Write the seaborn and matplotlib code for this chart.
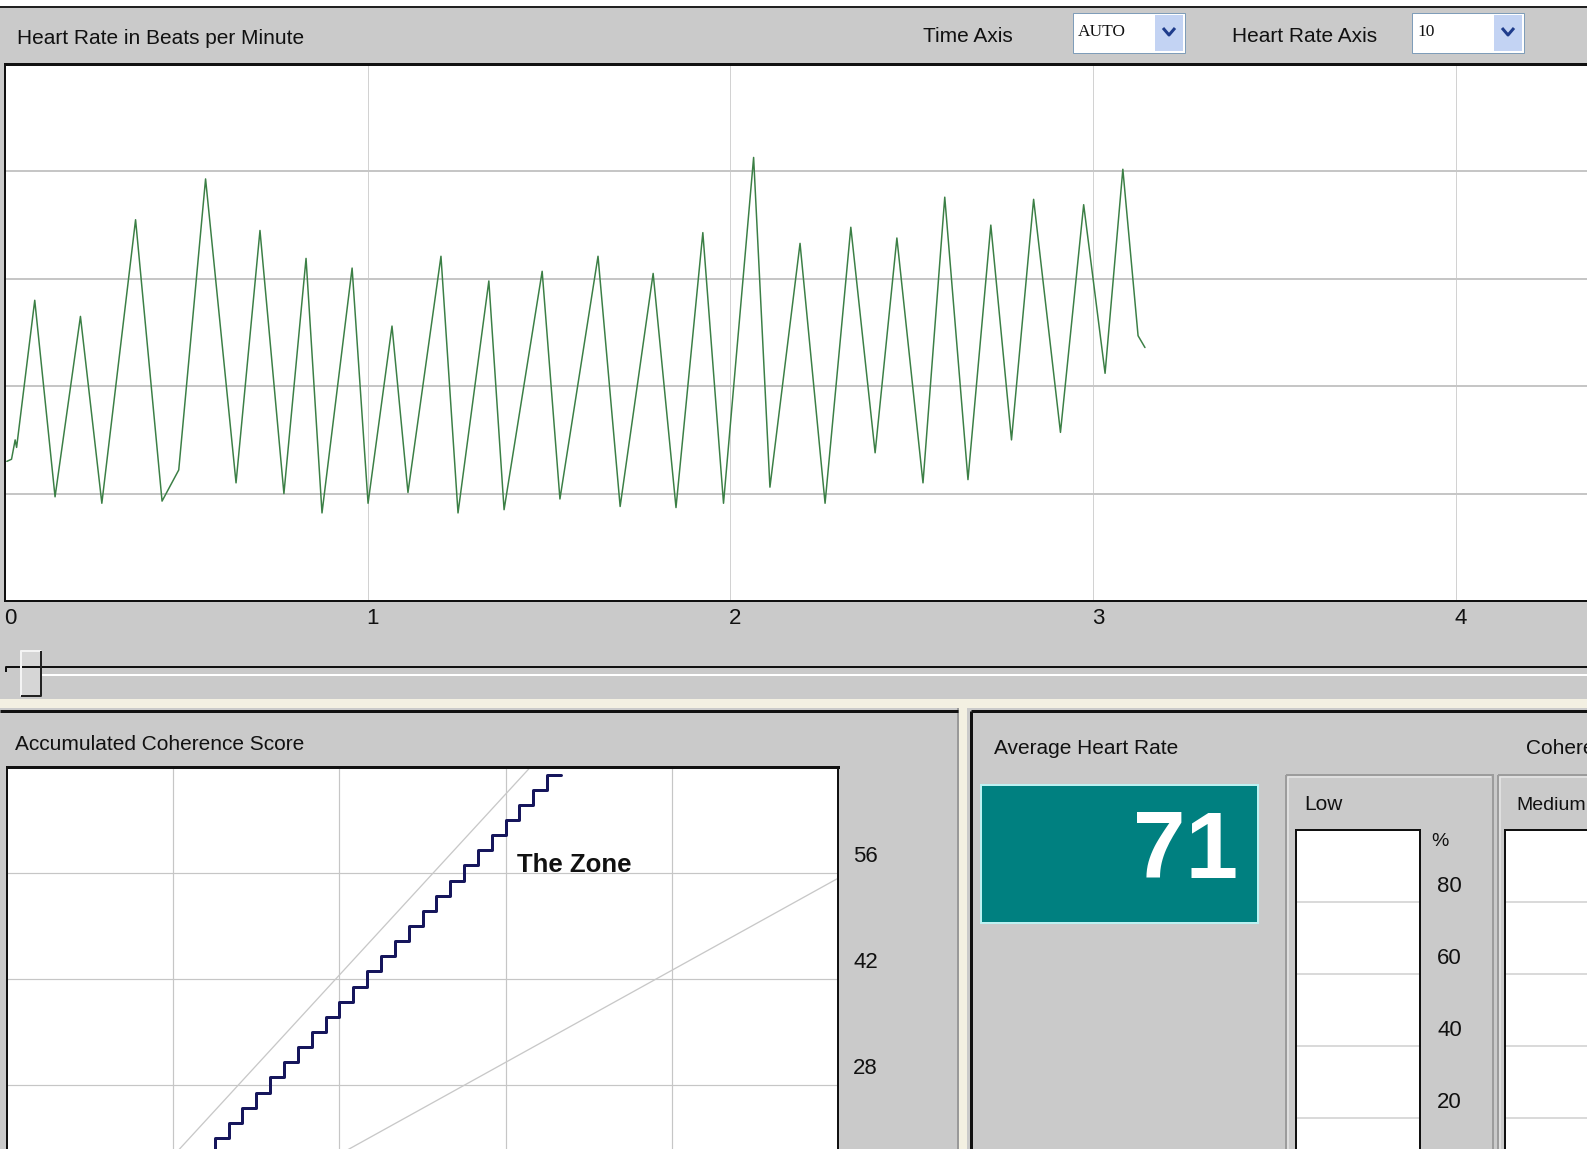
import numpy as np
import seaborn as sns
import matplotlib
matplotlib.use("Agg")
import matplotlib.pyplot as plt
from matplotlib.patches import Rectangle
from matplotlib.transforms import blended_transform_factory, offset_copy
from matplotlib import font_manager

# ---- data ----
# heart rate trace: time in minutes, beats per minute (turning points of the wave)
hr_time = [0.005, 0.018, 0.028, 0.032, 0.082, 0.138, 0.208, 0.267, 0.360, 0.433,
           0.479, 0.553, 0.637, 0.703, 0.769, 0.830, 0.874, 0.957, 1.001, 1.067,
           1.111, 1.202, 1.249, 1.334, 1.376, 1.481, 1.530, 1.635, 1.696, 1.787,
           1.850, 1.924, 1.981, 2.064, 2.109, 2.192, 2.261, 2.332, 2.399, 2.459,
           2.531, 2.591, 2.655, 2.718, 2.775, 2.836, 2.910, 2.974, 3.033, 3.082,
           3.124, 3.143]
hr_bpm = [63.0, 63.2, 65.0, 64.3, 78.0, 59.7, 76.5, 59.1, 85.5, 59.3,
          62.2, 89.3, 61.0, 84.5, 60.0, 81.9, 58.2, 81.0, 59.1, 75.6,
          60.1, 82.1, 58.2, 79.8, 58.5, 80.7, 59.5, 82.1, 58.8, 80.5,
          58.7, 84.3, 59.1, 91.3, 60.6, 83.3, 59.1, 84.8, 63.8, 83.8,
          61.0, 87.6, 61.3, 85.0, 65.0, 87.4, 65.7, 86.9, 71.2, 90.2,
          74.7, 73.6]
time_ticks = [0, 1, 2, 3, 4]
hr_grid = [60, 70, 80, 90]

# accumulated coherence score, one value every 5 seconds
score_step_sec = 5
scores = [0, 0, 0, 0, 0, 1, 3, 5, 7, 9, 11, 13, 15, 17, 19, 21, 23, 25, 27, 29,
          31, 33, 35, 37, 39, 41, 43, 45, 47, 49, 51, 53, 55, 57, 59, 61, 63, 65,
          67, 69, 69]
zone_upper_t = [0.22, 3.15]
zone_upper_v = [0, 70]
zone_lower_t = [0.45, 5.0]
zone_lower_v = [0, 55.3]
score_ticks = [28, 42, 56]

avg_hr = 71
pct_ticks = [80, 60, 40, 20]

# ---- figure in pixel units ----
W, H, DPI = 1587, 1149, 100
sns.set_style("white")
installed = {f.name for f in font_manager.fontManager.ttflist}
SANS = ['Liberation Sans', 'DejaVu Sans']
NARROW = (['Liberation Sans Narrow'] + SANS) if 'Liberation Sans Narrow' in installed else SANS
plt.rcParams['font.family'] = SANS

PANEL = '#cacaca'
INK = '#111111'
GRID = '#c6c6c6'
FS = 15

fig = plt.figure(figsize=(W / DPI, H / DPI), dpi=DPI, facecolor=PANEL)

bg = fig.add_axes([0, 0, 1, 1])
bg.set_xlim(0, W)
bg.set_ylim(H, 0)
bg.axis('off')
bg.set_zorder(0)


def pt(px):
    return px * 72 / DPI


def rect(x0, y0, x1, y1, **kw):
    bg.add_patch(Rectangle((x0, y0), x1 - x0, y1 - y0, **kw))


def seg(xs, ys, color, w):
    bg.plot(xs, ys, color=color, lw=pt(w), solid_capstyle='butt')


def px_axes(x0, y0, x1, y1):
    ax = fig.add_axes([x0 / W, 1 - y1 / H, (x1 - x0) / W, (y1 - y0) / H])
    ax.set_zorder(1)
    ax.set_facecolor('white')
    return ax


def dropdown(x0, y0, x1, y1, label):
    rect(x0, y0, x1, y1, facecolor='white', edgecolor='#7f9db9', lw=pt(1))
    rect(x1 - 30, y0 + 2, x1 - 2, y1 - 2, facecolor='#c3d3f3', edgecolor='none')
    cx, cy = x1 - 16, (y0 + y1) / 2 - 1
    seg([cx - 6, cx, cx + 6], [cy - 4, cy + 3, cy - 4], '#1f3c8c', 3)
    bg.text(x0 + 5, cy, label, family=['Liberation Serif', 'DejaVu Serif'],
            fontsize=12.5, color=INK, ha='left', va='center')


# ---- top panel: header ----
rect(0, 0, W, 6, facecolor='white', edgecolor='none')
seg([0, W], [7, 7], '#222222', 2)
bg.text(17, 39, 'Heart Rate in Beats per Minute', fontsize=FS, color=INK, ha='left', va='center')
bg.text(968, 37, 'Time Axis', fontsize=FS, color=INK, ha='center', va='center')
dropdown(1073, 13, 1185, 53, 'AUTO')
bg.text(1305, 37, 'Heart Rate Axis', fontsize=FS, color=INK, ha='center', va='center')
dropdown(1412, 13, 1524, 53, '10')

# ---- heart rate chart ----
ax = px_axes(5, 64, W, 601)
sns.lineplot(x=hr_time, y=hr_bpm, ax=ax, color='#3b7f45', lw=pt(1.5), estimator=None, sort=False)
ax.set_xlim(0, (W - 5) / 362.7)
ax.set_ylim(50, 100)
ax.set_xticks(time_ticks)
ax.set_yticks(hr_grid)
ax.set_xticklabels([])
ax.set_yticklabels([])
ax.tick_params(length=0)
ax.xaxis.grid(True, color='#d2d2d2', lw=pt(1))
ax.yaxis.grid(True, color=GRID, lw=pt(2))
ax.set_axisbelow(True)
for side, w in [('top', 3), ('left', 2), ('bottom', 2)]:
    ax.spines[side].set_color('#111111')
    ax.spines[side].set_linewidth(pt(w))
ax.spines['right'].set_visible(False)
xlab = offset_copy(blended_transform_factory(ax.transData, ax.transAxes), fig=fig, x=5, y=-17, units='dots')
for t in time_ticks:
    ax.text(t, 0, str(t), transform=xlab, fontsize=16, color=INK, ha='center', va='center', clip_on=False)

# slider
seg([6, 6, W], [672, 667, 667], '#111111', 2)
seg([42, W], [675, 675], 'white', 2)
rect(20, 650, 42, 697, facecolor='#d6d6d6', edgecolor='none')
seg([21, 21, 41], [696, 651, 651], '#f4f4f4', 2)
seg([21, 41, 41], [696, 696, 651], '#222222', 2)

# separators between panels
rect(0, 699, W, 708, facecolor='#f3f0e2', edgecolor='none')
rect(959, 699, 967, H, facecolor='#f3f0e2', edgecolor='none')
seg([958, 958], [708, H], '#8a8a8a', 1.5)
seg([0, 958], [711, 711], '#111111', 3)
seg([971, W], [711, 711], '#111111', 3)
seg([971, 971], [711, H], '#111111', 3)

# ---- accumulated coherence score ----
bg.text(15, 744, 'Accumulated Coherence Score', fontsize=FS, color=INK, ha='left', va='center')
ax2 = px_axes(7, 767, 838, H)
score_t = np.arange(len(scores)) * score_step_sec / 60
ax2.plot(zone_upper_t, zone_upper_v, color='#c8c8c8', lw=pt(1.3))
ax2.plot(zone_lower_t, zone_lower_v, color='#c8c8c8', lw=pt(1.3))
sns.lineplot(x=score_t, y=scores, ax=ax2, color='#16165c', lw=pt(3), drawstyle='steps-post',
             estimator=None, sort=False)
ax2.set_xlim(0, 5)
ax2.set_ylim(70 - (H - 767) / 106 * 14, 70)
ax2.set_xticks([1, 2, 3, 4])
ax2.set_yticks(score_ticks)
ax2.set_xticklabels([])
ax2.set_yticklabels([])
ax2.tick_params(length=0)
ax2.grid(True, color=GRID, lw=pt(1.2))
ax2.set_axisbelow(True)
for side, w in [('top', 3), ('left', 2), ('right', 2)]:
    ax2.spines[side].set_color('#111111')
    ax2.spines[side].set_linewidth(pt(w))
ax2.spines['bottom'].set_visible(False)
ax2.text(3.07, 57.1, 'The Zone', fontsize=18.5, fontweight='bold', color=INK, ha='left', va='center')
ylab = offset_copy(blended_transform_factory(ax2.transAxes, ax2.transData), fig=fig, x=15, y=17, units='dots')
for v in score_ticks:
    ax2.text(1, v, str(v), transform=ylab, fontsize=16, color=INK, ha='left', va='center', clip_on=False)

# ---- average heart rate ----
bg.text(994, 748, 'Average Heart Rate', fontsize=FS, color=INK, ha='left', va='center')
rect(981, 785, 1258, 923, facecolor='#008080', edgecolor='#bdf2f2', lw=pt(2))
bg.text(1238, 853, str(avg_hr), family=NARROW, fontsize=68, fontweight='bold', color='white',
        ha='right', va='center')
# heading runs past the window edge in the screenshot
bg.text(1526, 748, 'Coherence', fontsize=FS, color=INK, ha='left', va='center', clip_on=True)

# coherence level boxes (Low / Medium), no bars filled
for (fx0, fx1, name, ax_x0, ax_x1) in [(1286, 1493, 'Low', 1296, 1420), (1498, 1640, 'Medium', 1505, W)]:
    rect(fx0, 775, fx1, H + 5, facecolor='none', edgecolor='#9c9c9c', lw=pt(2))
    seg([fx0 + 2, fx0 + 2, fx1 - 2], [H, 777, 777], '#e6e6e6', 1.5)
    bg.text(fx0 + 18, 805, name, fontsize=14 if name == 'Medium' else FS, color=INK, ha='left', va='center')
    axl = px_axes(ax_x0, 830, ax_x1, H)
    axl.set_xlim(0, 1)
    axl.set_ylim(100 - (H - 830) / 3.6, 100)
    axl.set_xticks([])
    axl.set_yticks(pct_ticks)
    axl.set_yticklabels([])
    axl.tick_params(length=0)
    axl.yaxis.grid(True, color='#cfcfcf', lw=pt(1.5))
    for side in ['top', 'left', 'right']:
        axl.spines[side].set_color('#111111')
        axl.spines[side].set_linewidth(pt(2))
    axl.spines['bottom'].set_visible(False)
    if name == 'Low':
        plab = offset_copy(blended_transform_factory(axl.transAxes, axl.transData), fig=fig, x=17, y=16, units='dots')
        for v in pct_ticks:
            axl.text(1, v, str(v), transform=plab, fontsize=16, color=INK, ha='left', va='center', clip_on=False)
        axl.text(1, 1, '%', transform=offset_copy(axl.transAxes, fig=fig, x=20, y=-12, units='dots'),
                 fontsize=14, color=INK, ha='center', va='center', clip_on=False)
    else:
        axl.spines['right'].set_visible(False)

fig.savefig('out.png', dpi=DPI, facecolor=fig.get_facecolor())
